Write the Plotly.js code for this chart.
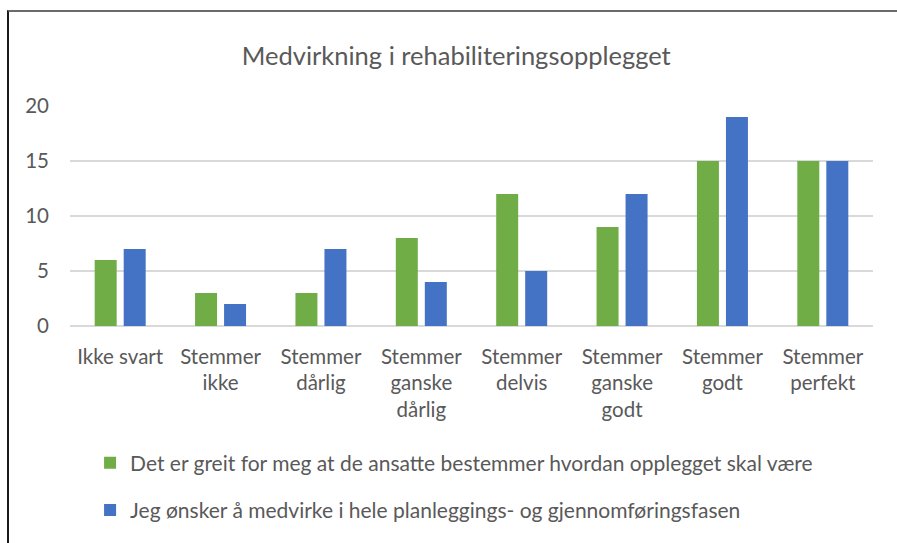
<!DOCTYPE html>
<html>
<head>
<meta charset="utf-8">
<script src="https://cdn.plot.ly/plotly-3.0.1.min.js"></script>
<style>
  html, body { margin: 0; padding: 0; background: #ffffff; }
  #wrap { position: relative; width: 897px; height: 543px; }
  #chart { position: absolute; left: 0; top: 0; width: 897px; height: 543px; }
  #frame { position: absolute; left: 7px; top: 10px; width: 890px; height: 533px;
           border-left: 2px solid #1a1a1a; border-top: 2px solid #6a6a6a; pointer-events: none; }
</style>
</head>
<body>
<div id="wrap">
  <div id="chart"></div>
  <div id="frame"></div>
</div>
<script>
const categories = [
  "Ikke svart",
  "Stemmer<br>ikke",
  "Stemmer<br>dårlig",
  "Stemmer<br>ganske<br>dårlig",
  "Stemmer<br>delvis",
  "Stemmer<br>ganske<br>godt",
  "Stemmer<br>godt",
  "Stemmer<br>perfekt"
];
const seriesGreenName = "Det er greit for meg at de ansatte bestemmer hvordan opplegget skal være";
const seriesBlueName = "Jeg ønsker å medvirke i hele planleggings- og gjennomføringsfasen";
const greenValues = [6, 3, 3, 8, 12, 9, 15, 15];
const blueValues = [7, 2, 7, 4, 5, 12, 19, 15];
const yTicks = [0, 5, 10, 15, 20];
const titleText = "Medvirkning i rehabiliteringsopplegget";

const font = "Lato, 'Open Sans', sans-serif";
const textColor = "#595959";

const traces = [
  { type: "bar", x: categories, y: greenValues, name: seriesGreenName,
    marker: { color: "#70AD47" }, legendgroup: "g1" },
  { type: "bar", x: categories, y: blueValues, name: seriesBlueName,
    marker: { color: "#4472C4" }, legendgroup: "g2" }
];

const layout = {
  width: 897, height: 543,
  paper_bgcolor: "#ffffff", plot_bgcolor: "#ffffff",
  margin: { l: 70, r: 24, t: 106, b: 215, pad: 0 },
  font: { family: font, color: textColor, size: 20 },
  title: { text: titleText, font: { family: font, size: 25.5, color: textColor },
           x: 0.481, xref: "paper", xanchor: "center", y: 0.897, yanchor: "middle" },
  barmode: "group", bargap: 0.422, bargroupgap: 0.242,
  xaxis: { type: "category", showgrid: false, zeroline: false, showline: false,
           ticks: "", tickfont: { family: font, size: 20.5, color: textColor },
           ticklabelstandoff: 16, automargin: false, tickangle: 0 },
  yaxis: { range: [0, 20], tickvals: yTicks, showgrid: true, gridcolor: "#d9d9d9", gridwidth: 1.5,
           zeroline: true, zerolinecolor: "#d9d9d9", zerolinewidth: 1.5, showline: false, ticks: "",
           tickfont: { family: font, size: 20.5, color: textColor }, ticklabelstandoff: 20, automargin: false },
  showlegend: true,
  legend: { orientation: "v", x: 0.025, xanchor: "left", y: -0.53, yanchor: "top",
            font: { family: font, size: 21, color: textColor }, bgcolor: "rgba(0,0,0,0)",
            traceorder: "grouped", tracegroupgap: 17, itemwidth: 30 }
};

Plotly.newPlot("chart", traces, layout, { displayModeBar: false, staticPlot: true });
</script>
</body>
</html>
